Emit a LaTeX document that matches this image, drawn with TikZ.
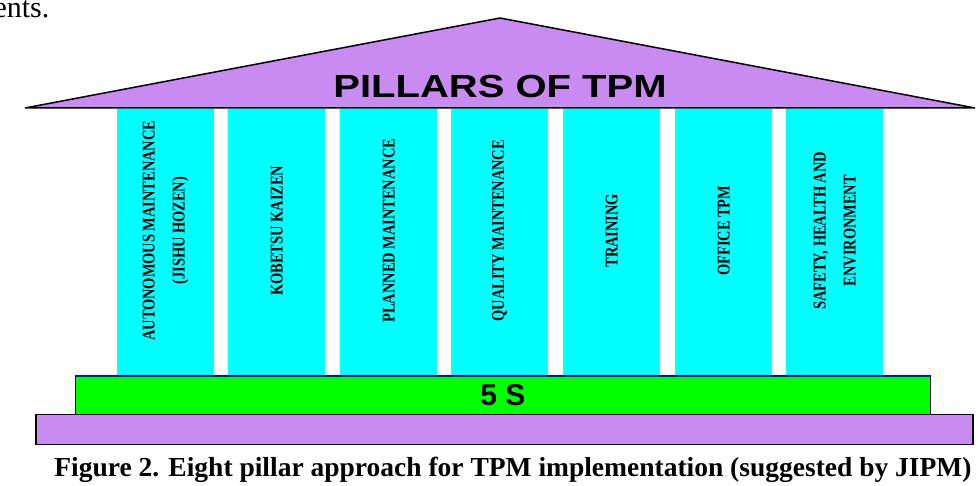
\documentclass[tikz,border=0pt]{standalone}
\usepackage{fontspec}
\setmainfont{Liberation Serif}
\newfontfamily\hv{Liberation Sans}
\definecolor{pcyan}{RGB}{0,255,255}
\definecolor{proof}{RGB}{200,140,240}
\definecolor{pgreen}{RGB}{0,255,0}
\begin{document}
\begin{tikzpicture}[x=1pt,y=-1pt,
  pillar/.style={fill=pcyan,draw=none,minimum width=97pt,minimum height=267pt,anchor=north west,inner sep=0},
  ptext/.style={rotate=90,align=center,font=\bfseries\fontsize{18}{30}\selectfont,xscale=0.8}]
\clip (0,0) rectangle (978,486);
\fill[white] (0,0) rectangle (978,486);
\node[anchor=south west,inner sep=0,font=\fontsize{30}{32}\selectfont] (prev) at (-30,18) {ments.};
\fill[fill=proof,draw=black,line width=1.5pt] (25,108) -- (500,18) -- (975,108) -- cycle;
\node[font=\hv\bfseries\fontsize{32}{34}\selectfont,xscale=1.25] (title) at (500,86) {PILLARS OF TPM};
\foreach \x/\n/\t in {117/p1/{AUTONOMOUS MAINTENANCE\\(JISHU HOZEN)},228/p2/KOBETSU KAIZEN,340/p3/PLANNED MAINTENANCE,451/p4/QUALITY MAINTENANCE,563/p5/TRAINING,675/p6/OFFICE TPM,786/p7/{SAFETY, HEALTH AND\\ENVIRONMENT}}{
  \node[pillar] (\n) at (\x,109) {};
  \node[ptext] at ([yshift=12pt]\n.center) {\t};
}
\node[fill=pgreen,draw=black,line width=1pt,minimum width=855pt,minimum height=38pt,inner sep=0,anchor=north west] (fives) at (75,376) {};
\node[font=\hv\bfseries\fontsize{30}{32}\selectfont] at (fives.center) {5 S};
\draw[blue,line width=1.2pt] (fives.north west) -- (fives.north east);
\node[fill=proof,draw=black,line width=1.5pt,minimum width=937pt,minimum height=30pt,inner sep=0,anchor=north west] (base) at (35,414) {};
\node[font=\bfseries\fontsize{27.5}{30}\selectfont] (cap) at (513,470) {Figure 2. Eight pillar approach for TPM implementation (suggested by JIPM)};
\end{tikzpicture}
\end{document}
